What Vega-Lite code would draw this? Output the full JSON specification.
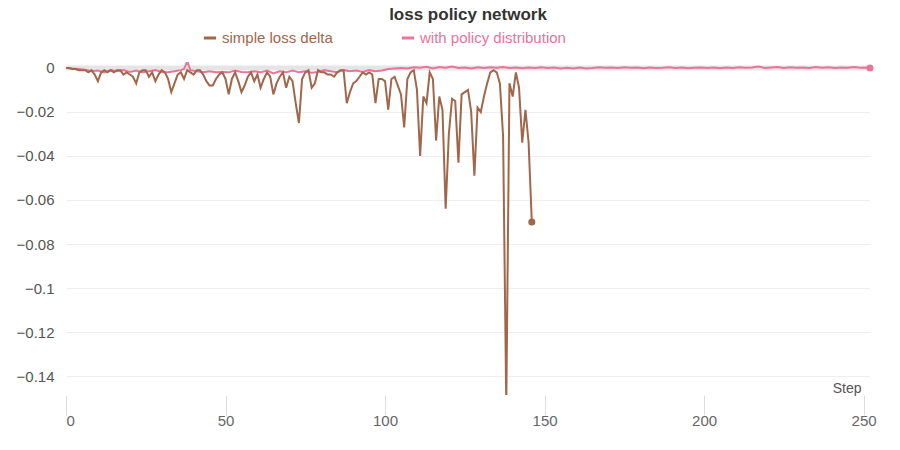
{
"$schema":"https://vega.github.io/schema/vega-lite/v6.json",
"width":804,"height":333,
"autosize":{"type":"none"},
"padding":{"left":66,"top":62,"right":30,"bottom":55},
"background":"white",
"title":{"text":"loss policy network","font":"Liberation Sans","fontSize":17,"fontWeight":"bold","color":"#333","offset":6,"anchor":"middle"},
"config":{"view":{"stroke":null},"font":"Liberation Sans","axis":{"labelFont":"Liberation Sans","titleFont":"Liberation Sans"},"legend":{"labelFont":"Liberation Sans"}},
"datasets":{
"a":[{"step":0,"value":0},{"step":1,"value":0},{"step":2,"value":-0.0005},{"step":3,"value":-0.0005},{"step":4,"value":-0.001},{"step":5,"value":-0.001},{"step":6,"value":-0.001},{"step":7,"value":-0.002},{"step":8,"value":-0.001},{"step":9,"value":-0.003},{"step":10,"value":-0.006},{"step":11,"value":-0.002},{"step":12,"value":-0.001},{"step":13,"value":-0.002},{"step":14,"value":-0.001},{"step":15,"value":-0.002},{"step":16,"value":-0.001},{"step":17,"value":-0.001},{"step":18,"value":-0.003},{"step":19,"value":-0.002},{"step":20,"value":-0.003},{"step":21,"value":-0.004},{"step":22,"value":-0.007},{"step":23,"value":-0.002},{"step":24,"value":-0.001},{"step":25,"value":-0.001},{"step":26,"value":-0.004},{"step":27,"value":-0.002},{"step":28,"value":-0.006},{"step":29,"value":-0.003},{"step":30,"value":-0.001},{"step":31,"value":-0.002},{"step":32,"value":-0.005},{"step":33,"value":-0.011},{"step":34,"value":-0.007},{"step":35,"value":-0.003},{"step":36,"value":-0.002},{"step":37,"value":-0.005},{"step":38,"value":-0.001},{"step":39,"value":-0.002},{"step":40,"value":-0.003},{"step":41,"value":-0.001},{"step":42,"value":-0.001},{"step":43,"value":-0.003},{"step":44,"value":-0.006},{"step":45,"value":-0.008},{"step":46,"value":-0.008},{"step":47,"value":-0.005},{"step":48,"value":-0.003},{"step":49,"value":-0.002},{"step":50,"value":-0.005},{"step":51,"value":-0.012},{"step":52,"value":-0.005},{"step":53,"value":-0.002},{"step":54,"value":-0.006},{"step":55,"value":-0.011},{"step":56,"value":-0.008},{"step":57,"value":-0.004},{"step":58,"value":-0.002},{"step":59,"value":-0.006},{"step":60,"value":-0.003},{"step":61,"value":-0.009},{"step":62,"value":-0.005},{"step":63,"value":-0.002},{"step":64,"value":-0.004},{"step":65,"value":-0.012},{"step":66,"value":-0.007},{"step":67,"value":-0.004},{"step":68,"value":-0.002},{"step":69,"value":-0.009},{"step":70,"value":-0.004},{"step":71,"value":-0.006},{"step":72,"value":-0.016},{"step":73,"value":-0.025},{"step":74,"value":-0.005},{"step":75,"value":-0.002},{"step":76,"value":-0.001},{"step":77,"value":-0.009},{"step":78,"value":-0.007},{"step":79,"value":-0.001},{"step":80,"value":-0.002},{"step":81,"value":-0.002},{"step":82,"value":-0.003},{"step":83,"value":-0.003},{"step":84,"value":-0.004},{"step":85,"value":-0.002},{"step":86,"value":-0.001},{"step":87,"value":-0.001},{"step":88,"value":-0.016},{"step":89,"value":-0.011},{"step":90,"value":-0.007},{"step":91,"value":-0.006},{"step":92,"value":-0.004},{"step":93,"value":-0.002},{"step":94,"value":-0.003},{"step":95,"value":-0.002},{"step":96,"value":-0.003},{"step":97,"value":-0.016},{"step":98,"value":-0.005},{"step":99,"value":-0.005},{"step":100,"value":-0.006},{"step":101,"value":-0.019},{"step":102,"value":-0.005},{"step":103,"value":-0.004},{"step":104,"value":-0.008},{"step":105,"value":-0.012},{"step":106,"value":-0.027},{"step":107,"value":-0.005},{"step":108,"value":-0.002},{"step":109,"value":-0.001},{"step":110,"value":-0.01},{"step":111,"value":-0.04},{"step":112,"value":-0.013},{"step":113,"value":-0.016},{"step":114,"value":-0.002},{"step":115,"value":-0.005},{"step":116,"value":-0.033},{"step":117,"value":-0.013},{"step":118,"value":-0.019},{"step":119,"value":-0.064},{"step":120,"value":-0.03},{"step":121,"value":-0.014},{"step":122,"value":-0.015},{"step":123,"value":-0.043},{"step":124,"value":-0.012},{"step":125,"value":-0.011},{"step":126,"value":-0.01},{"step":127,"value":-0.02},{"step":128,"value":-0.049},{"step":129,"value":-0.018},{"step":130,"value":-0.02},{"step":131,"value":-0.013},{"step":132,"value":-0.007},{"step":133,"value":-0.002},{"step":134,"value":-0.001},{"step":135,"value":-0.002},{"step":136,"value":-0.007},{"step":137,"value":-0.031},{"step":138,"value":-0.153},{"step":139,"value":-0.007},{"step":140,"value":-0.013},{"step":141,"value":-0.002},{"step":142,"value":-0.009},{"step":143,"value":-0.034},{"step":144,"value":-0.019},{"step":145,"value":-0.034},{"step":146,"value":-0.07}],
"b":[{"step":0,"value":0},{"step":2,"value":-0.0003},{"step":4,"value":-0.0005},{"step":6,"value":-0.0008},{"step":8,"value":-0.0015},{"step":10,"value":-0.0012},{"step":12,"value":-0.002},{"step":14,"value":-0.001},{"step":16,"value":-0.0015},{"step":18,"value":-0.001},{"step":20,"value":-0.0018},{"step":22,"value":-0.0012},{"step":24,"value":-0.002},{"step":26,"value":-0.0015},{"step":28,"value":-0.001},{"step":30,"value":-0.0018},{"step":32,"value":-0.002},{"step":34,"value":-0.0015},{"step":36,"value":-0.001},{"step":37,"value":-0.0005},{"step":38,"value":0.003},{"step":39,"value":-0.001},{"step":41,"value":-0.0015},{"step":43,"value":-0.002},{"step":45,"value":-0.0015},{"step":47,"value":-0.002},{"step":49,"value":-0.0018},{"step":51,"value":-0.002},{"step":53,"value":-0.0012},{"step":55,"value":-0.0018},{"step":57,"value":-0.002},{"step":59,"value":-0.0015},{"step":61,"value":-0.002},{"step":63,"value":-0.0012},{"step":65,"value":-0.0025},{"step":67,"value":-0.0015},{"step":69,"value":-0.002},{"step":71,"value":-0.0012},{"step":73,"value":-0.002},{"step":75,"value":-0.0015},{"step":77,"value":-0.0022},{"step":79,"value":-0.0018},{"step":81,"value":-0.001},{"step":83,"value":-0.0015},{"step":85,"value":-0.002},{"step":87,"value":-0.001},{"step":89,"value":-0.0015},{"step":91,"value":-0.0012},{"step":93,"value":-0.0018},{"step":95,"value":-0.001},{"step":97,"value":-0.0015},{"step":99,"value":-0.0012},{"step":101,"value":-0.0005},{"step":103,"value":-0.0002},{"step":105,"value":0},{"step":107,"value":-0.0003},{"step":109,"value":0.0003},{"step":111,"value":0.0001},{"step":113,"value":0.0005},{"step":115,"value":-0.0002},{"step":117,"value":0.0004},{"step":119,"value":0.0001},{"step":121,"value":0.0006},{"step":123,"value":0},{"step":125,"value":0.0002},{"step":127,"value":-0.0002},{"step":129,"value":0.0003},{"step":131,"value":0},{"step":133,"value":0.0003},{"step":135,"value":0.0001},{"step":137,"value":0.0004},{"step":139,"value":0},{"step":141,"value":0.0002},{"step":143,"value":-0.0001},{"step":145,"value":0.0002},{"step":147,"value":0},{"step":149,"value":0.0003},{"step":151,"value":0},{"step":153,"value":0.0002},{"step":155,"value":-0.0002},{"step":157,"value":0.0001},{"step":159,"value":-0.0003},{"step":161,"value":0.0002},{"step":163,"value":-0.0002},{"step":165,"value":0},{"step":167,"value":0.0003},{"step":169,"value":0.0001},{"step":171,"value":0.0002},{"step":173,"value":0},{"step":175,"value":0.0003},{"step":177,"value":0.0001},{"step":179,"value":0.0002},{"step":181,"value":-0.0001},{"step":183,"value":0.0002},{"step":185,"value":0},{"step":187,"value":0.0001},{"step":189,"value":0.0003},{"step":191,"value":0},{"step":193,"value":0.0002},{"step":195,"value":-0.0001},{"step":197,"value":0.0001},{"step":199,"value":0.0002},{"step":201,"value":0},{"step":203,"value":0.0002},{"step":205,"value":-0.0001},{"step":207,"value":0.0002},{"step":209,"value":0},{"step":211,"value":0.0003},{"step":213,"value":0.0001},{"step":215,"value":0.0002},{"step":217,"value":0.0006},{"step":219,"value":0},{"step":221,"value":0.0002},{"step":223,"value":0.0004},{"step":225,"value":0},{"step":227,"value":0.0003},{"step":229,"value":0.0001},{"step":231,"value":0.0002},{"step":233,"value":0},{"step":235,"value":0.0004},{"step":237,"value":0.0001},{"step":239,"value":0.0003},{"step":241,"value":0},{"step":243,"value":0.0002},{"step":245,"value":0.0001},{"step":247,"value":0.0004},{"step":249,"value":0.0001},{"step":251,"value":0.0002},{"step":252,"value":0}]
},
"encoding":{
"x":{"field":"step","type":"quantitative","scale":{"domain":[0,252],"nice":false},"axis":{"title":"Step","titleAnchor":"end","titleAlign":"right","titleX":795,"titleY":-14,"titleFontWeight":"normal","titleFontSize":14,"titleColor":"#555","values":[0,50,100,150,200,250],"grid":false,"domain":false,"tickColor":"#ddd","tickSize":20,"labelFontSize":15,"labelColor":"#666","labelPadding":-2}},
"y":{"field":"value","type":"quantitative","scale":{"domain":[-0.1486,0.0027],"nice":false,"zero":false},"axis":{"title":null,"values":[0,-0.02,-0.04,-0.06,-0.08,-0.1,-0.12,-0.14],"format":"~g","domain":false,"ticks":false,"gridColor":"#eee","labelFontSize":15,"labelColor":"#555","labelPadding":12}},
"color":{"datum":"simple loss delta","type":"nominal","scale":{"domain":["simple loss delta","with policy distribution"],"range":["#a0674b","#e8749c"]},"legend":{"title":null,"orient":"none","direction":"horizontal","legendX":136,"legendY":-32,"symbolType":"stroke","symbolStrokeWidth":3,"symbolSize":150,"labelFontSize":15,"columnPadding":62,"labelColor":{"expr":"datum.label=='simple loss delta' ? '#a0674b' : '#e8749c'"}}}
},
"layer":[
{"data":{"values":[{"v":0}]},"mark":{"type":"rule","color":"#e5e5e5","strokeWidth":5},"encoding":{"y":{"field":"v","type":"quantitative"},"x":null,"color":null}},
{"data":{"name":"b"},"mark":{"type":"line","strokeWidth":2,"clip":true},"encoding":{"color":{"datum":"with policy distribution"}}},
{"data":{"name":"a"},"mark":{"type":"line","strokeWidth":2,"clip":true}},
{"data":{"name":"b"},"transform":[{"filter":"datum.step==252"}],"mark":{"type":"point","filled":true,"size":50,"opacity":1},"encoding":{"color":{"datum":"with policy distribution"}}},
{"data":{"name":"a"},"transform":[{"filter":"datum.step==146"}],"mark":{"type":"point","filled":true,"size":50,"opacity":1}}
]
}
